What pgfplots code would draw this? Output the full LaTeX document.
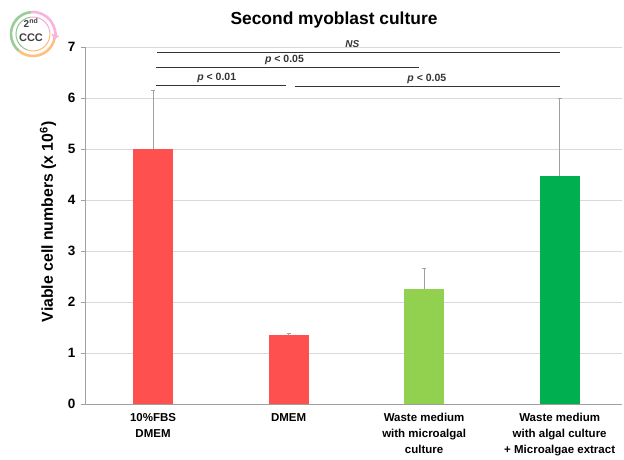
\documentclass[border=0pt]{standalone}
\usepackage{pgfplots}
\pgfplotsset{compat=1.18}
\usepackage{fontspec}
\setmainfont{Liberation Sans}
\usetikzlibrary{arrows.meta,calc}
\definecolor{barred}{RGB}{255,80,80}
\definecolor{barlg}{RGB}{146,208,80}
\definecolor{bardg}{RGB}{0,176,80}
\definecolor{gridc}{RGB}{217,217,217}
\definecolor{axc}{RGB}{160,160,160}
\begin{document}
\begin{tikzpicture}[x=1pt,y=1pt]
\begin{axis}[
  name=ax,
  scale only axis, width=537, height=357,
  xmin=-0.502, xmax=3.46, ymin=0, ymax=7,
  axis x line=bottom, axis y line=left,
  axis line style={draw=axc, -},
  ytick={0,1,...,7},
  ymajorgrids, grid style={gridc},
  xtick={0,1,2,3},
  xticklabels={{10\%FBS\\DMEM},{DMEM},{Waste medium\\with microalgal\\culture},{Waste medium\\with algal culture\\+ Microalgae extract}},
  xticklabel style={align=center, font=\bfseries\fontsize{11.5}{16}\selectfont, yshift=-2pt},
  x tick style={draw=none},
  y tick style={draw=axc},
  tick align=outside, major tick length=4pt,
  yticklabel style={font=\bfseries\fontsize{13.5}{14}\selectfont, xshift=-2pt},
  /pgf/number format/assume math mode=true,
  ylabel={Viable cell numbers (x 10\textsuperscript{6})},
  ylabel style={font=\bfseries\fontsize{15.8}{17}\selectfont, at={(axis description cs:-0.069,0.51)}, anchor=center},
  clip=false,
  error bars/error bar style={draw=axc, line width=0.6pt},
  error bars/error mark options={draw=axc, mark size=2pt, rotate=90},
]
\addplot[ybar, bar width=0.295, bar shift=0pt, fill=barred, draw=none,
  error bars/.cd, y dir=plus, y explicit] coordinates {(0,5.0) +- (0,1.15)};
\addplot[ybar, bar width=0.295, bar shift=0pt, fill=barred, draw=none,
  error bars/.cd, y dir=plus, y explicit] coordinates {(1,1.35) +- (0,0.04)};
\addplot[ybar, bar width=0.295, bar shift=0pt, fill=barlg, draw=none,
  error bars/.cd, y dir=plus, y explicit] coordinates {(2,2.25) +- (0,0.41)};
\addplot[ybar, bar width=0.295, bar shift=0pt, fill=bardg, draw=none,
  error bars/.cd, y dir=plus, y explicit] coordinates {(3,4.47) +- (0,1.53)};
% significance lines
\draw[black!80, line width=0.9pt] (axis cs:0.03,6.90) -- (axis cs:3.0,6.90);
\draw[black!80, line width=0.9pt] (axis cs:0.02,6.59) -- (axis cs:1.96,6.59);
\draw[black!80, line width=0.9pt] (axis cs:0.02,6.25) -- (axis cs:0.98,6.25);
\draw[black!80, line width=0.9pt] (axis cs:1.05,6.23) -- (axis cs:3.0,6.23);
\node[font=\bfseries\itshape\fontsize{10}{10}\selectfont, text=black!80] at (axis cs:1.47,7.06) {NS};
\node[font=\bfseries\fontsize{10.5}{10}\selectfont, text=black!80] at (axis cs:0.97,6.74) {\textit{p} < 0.05};
\node[font=\bfseries\fontsize{10.5}{10}\selectfont, text=black!80] at (axis cs:0.47,6.40) {\textit{p} < 0.01};
\node[font=\bfseries\fontsize{10.5}{10}\selectfont, text=black!80] at (axis cs:2.02,6.38) {\textit{p} < 0.05};
\end{axis}
\pgfresetboundingbox
\coordinate (O) at ($(ax.south west)+(-85,-55)$);
\useasboundingbox (O) rectangle ++(624,459);
\begin{scope}[shift={(O)}]
% logo
\draw[line width=1pt, green!50!black!45] (33,425) ++(100:17) arc (100:250:17);
\draw[line width=1pt, orange!55] (33,425) ++(250:17) arc (250:370:17);
\draw[line width=1pt, magenta!35] (33,425) ++(10:17) arc (10:100:17);
\draw[line width=2.6pt, green!50!black!40] (33,425) ++(95:22) arc (95:230:22);
\draw[line width=2.6pt, orange!50] (33,425) ++(230:22) arc (230:355:22);
\draw[line width=2.6pt, magenta!30, -{Triangle[length=5pt,width=8pt]}] (33,425) ++(95:22) arc (95:-15:22);
\node[font=\bfseries\fontsize{10}{10}\selectfont, text=black!75] at (31,436) {2\textsuperscript{nd}};
\node[font=\bfseries\fontsize{11}{11}\selectfont, text=black!75] at (31,421) {CCC};
% title
\node[font=\bfseries\fontsize{17.4}{19}\selectfont] at (334,439) {Second myoblast culture};
\end{scope}
\end{tikzpicture}
\end{document}
